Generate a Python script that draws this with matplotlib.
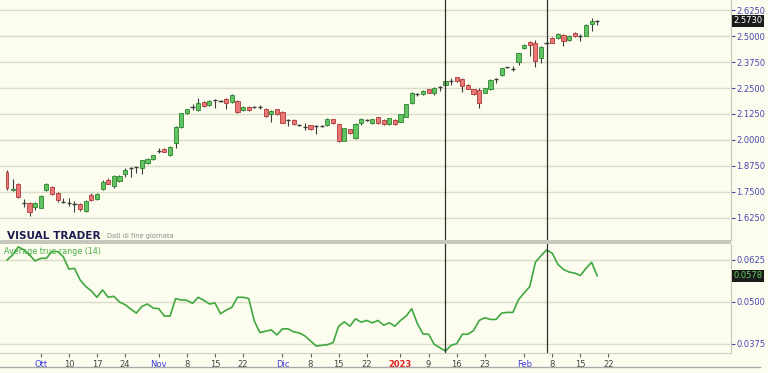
"""Daily candlestick chart with ATR(14) panel, Visual Trader style."""

import matplotlib

matplotlib.use("Agg")
import matplotlib.pyplot as plt
from matplotlib.lines import Line2D
from matplotlib.patches import Rectangle
from matplotlib.transforms import blended_transform_factory
import pandas as pd


FIRST_DAY = "2022-09-23"
LAST_DAY = "2023-02-28"
HOLIDAYS = ["2022-12-26"]

opens = [
    1.845, 1.760, 1.788, 1.700, 1.699, 1.676, 1.675, 1.760, 1.776, 1.747,
    1.705, 1.700, 1.693, 1.692, 1.659, 1.736, 1.716, 1.763, 1.808, 1.779,
    1.804, 1.835, 1.866, 1.868, 1.864, 1.888, 1.907, 1.946, 1.957, 1.926,
    1.984, 2.061, 2.128, 2.158, 2.144, 2.181, 2.168, 2.191, 2.190, 2.199,
    2.184, 2.189, 2.144, 2.160, 2.161, 2.160, 2.149, 2.123, 2.147, 2.136,
    2.097, 2.096, 2.073, 2.065, 2.070, 2.068, 2.068, 2.070, 2.099, 2.075,
    1.997, 2.051, 2.008, 2.083, 2.097, 2.080, 2.109, 2.096, 2.077, 2.096,
    2.088, 2.112, 2.176, 2.220, 2.221, 2.243, 2.227, 2.254, 2.264, 2.284,
    2.301, 2.292, 2.266, 2.243, 2.240, 2.227, 2.243, 2.292, 2.311, 2.350,
    2.343, 2.377, 2.441, 2.473, 2.465, 2.393, 2.467, 2.489, 2.489, 2.505,
    2.481, 2.516, 2.502, 2.501, 2.558, 2.574,
]
highs = [
    1.855, 1.811, 1.792, 1.715, 1.704, 1.704, 1.736, 1.792, 1.779, 1.752,
    1.720, 1.720, 1.708, 1.699, 1.711, 1.747, 1.744, 1.808, 1.816, 1.830,
    1.832, 1.864, 1.872, 1.872, 1.906, 1.912, 1.930, 1.963, 1.960, 1.970,
    2.066, 2.132, 2.150, 2.172, 2.200, 2.186, 2.192, 2.196, 2.194, 2.203,
    2.220, 2.193, 2.163, 2.163, 2.165, 2.166, 2.152, 2.142, 2.150, 2.139,
    2.099, 2.100, 2.076, 2.080, 2.074, 2.072, 2.072, 2.104, 2.103, 2.078,
    2.059, 2.055, 2.080, 2.106, 2.101, 2.102, 2.112, 2.099, 2.107, 2.099,
    2.126, 2.174, 2.232, 2.227, 2.240, 2.247, 2.255, 2.259, 2.287, 2.296,
    2.305, 2.296, 2.270, 2.247, 2.252, 2.251, 2.291, 2.296, 2.347, 2.353,
    2.355, 2.420, 2.460, 2.477, 2.481, 2.452, 2.472, 2.493, 2.513, 2.509,
    2.503, 2.520, 2.512, 2.556, 2.585, 2.576,
]
lows = [
    1.760, 1.755, 1.722, 1.680, 1.635, 1.663, 1.671, 1.755, 1.736, 1.704,
    1.696, 1.684, 1.655, 1.660, 1.655, 1.708, 1.712, 1.760, 1.787, 1.771,
    1.800, 1.824, 1.820, 1.840, 1.837, 1.884, 1.903, 1.939, 1.940, 1.922,
    1.963, 2.058, 2.124, 2.144, 2.140, 2.158, 2.163, 2.155, 2.183, 2.147,
    2.180, 2.132, 2.140, 2.140, 2.155, 2.148, 2.112, 2.088, 2.120, 2.080,
    2.067, 2.074, 2.068, 2.048, 2.048, 2.027, 2.062, 2.066, 2.077, 1.992,
    1.994, 2.029, 2.004, 2.070, 2.092, 2.077, 2.077, 2.072, 2.074, 2.074,
    2.085, 2.109, 2.172, 2.212, 2.218, 2.224, 2.218, 2.235, 2.260, 2.264,
    2.281, 2.232, 2.244, 2.218, 2.152, 2.224, 2.240, 2.275, 2.308, 2.345,
    2.330, 2.361, 2.436, 2.404, 2.353, 2.369, 2.464, 2.465, 2.485, 2.452,
    2.477, 2.497, 2.475, 2.498, 2.525, 2.555,
]
closes = [
    1.770, 1.765, 1.724, 1.697, 1.655, 1.699, 1.732, 1.787, 1.740, 1.712,
    1.703, 1.698, 1.690, 1.668, 1.708, 1.712, 1.740, 1.800, 1.790, 1.827,
    1.829, 1.856, 1.868, 1.869, 1.904, 1.907, 1.926, 1.948, 1.944, 1.968,
    2.064, 2.128, 2.147, 2.160, 2.176, 2.163, 2.187, 2.193, 2.189, 2.176,
    2.215, 2.136, 2.160, 2.144, 2.160, 2.159, 2.115, 2.139, 2.123, 2.083,
    2.096, 2.077, 2.072, 2.064, 2.051, 2.067, 2.067, 2.101, 2.080, 1.995,
    2.056, 2.032, 2.077, 2.101, 2.096, 2.099, 2.080, 2.075, 2.104, 2.077,
    2.123, 2.171, 2.228, 2.219, 2.237, 2.227, 2.252, 2.256, 2.284, 2.285,
    2.284, 2.260, 2.247, 2.221, 2.176, 2.248, 2.288, 2.293, 2.344, 2.349,
    2.344, 2.417, 2.457, 2.457, 2.381, 2.449, 2.468, 2.468, 2.510, 2.477,
    2.500, 2.500, 2.501, 2.553, 2.574, 2.573,
]
atr = [
    0.0625, 0.0640, 0.0664, 0.0655, 0.0640, 0.0622, 0.0630, 0.0630, 0.0650, 0.0650,
    0.0635, 0.0598, 0.0600, 0.0566, 0.0546, 0.0533, 0.0514, 0.0536, 0.0514, 0.0517,
    0.0500, 0.0492, 0.0479, 0.0467, 0.0487, 0.0494, 0.0482, 0.0480, 0.0458, 0.0458,
    0.0510, 0.0506, 0.0505, 0.0496, 0.0514, 0.0505, 0.0494, 0.0497, 0.0465, 0.0476,
    0.0484, 0.0514, 0.0514, 0.0510, 0.0443, 0.0409, 0.0413, 0.0417, 0.0402, 0.0420,
    0.0420, 0.0411, 0.0408, 0.0399, 0.0384, 0.0369, 0.0371, 0.0373, 0.0379, 0.0428,
    0.0441, 0.0428, 0.0450, 0.0440, 0.0445, 0.0438, 0.0445, 0.0431, 0.0438, 0.0428,
    0.0445, 0.0458, 0.0480, 0.0436, 0.0405, 0.0404, 0.0374, 0.0364, 0.0354, 0.0371,
    0.0376, 0.0404, 0.0404, 0.0415, 0.0445, 0.0453, 0.0448, 0.0448, 0.0467, 0.0469,
    0.0469, 0.0507, 0.0527, 0.0546, 0.0618, 0.0638, 0.0655, 0.0645, 0.0612, 0.0597,
    0.0589, 0.0586, 0.0579, 0.0600, 0.0618, 0.0578,
]

tick_dates = [
    "2022-10-03", "2022-10-10", "2022-10-17", "2022-10-24",
    "2022-11-01", "2022-11-08", "2022-11-15", "2022-11-22",
    "2022-12-01", "2022-12-08", "2022-12-15", "2022-12-22",
    "2023-01-02", "2023-01-09", "2023-01-16", "2023-01-23",
    "2023-02-01", "2023-02-08", "2023-02-15", "2023-02-22",
]
tick_labels = [
    "Ott", "10", "17", "24", "Nov", "8", "15", "22", "Dic", "8", "15", "22",
    "2023", "9", "16", "23", "Feb", "8", "15", "22",
]
marker_dates = ["2023-01-12", "2023-02-07"]

price_ticks = [1.625, 1.75, 1.875, 2.0, 2.125, 2.25, 2.375, 2.5, 2.625]
atr_ticks = [0.0375, 0.05, 0.0625]

BG = "#fdfdef"
GRID = "#dcdccb"
AXIS_BLUE = "#4646b4"
UP_FILL, UP_EDGE = "#62c462", "#2c862c"
DOWN_FILL, DOWN_EDGE = "#e87775", "#b03838"
WICK = "#3c3c3c"

W, H = 768, 373


def fig_rect(left, top, right, bottom):
    """Convert a pixel box to a figure fraction rect."""
    return [left / W, 1 - bottom / H, (right - left) / W, (bottom - top) / H]


def main() -> None:
    days = pd.bdate_range(FIRST_DAY, LAST_DAY)
    days = days[~days.isin(pd.to_datetime(HOLIDAYS))]
    index_of = {day: i for i, day in enumerate(days)}
    xs = list(range(len(closes)))

    fig = plt.figure(figsize=(W / 100, H / 100), dpi=100, facecolor=BG)
    ax_price = fig.add_axes(fig_rect(0, 0, 731, 240), facecolor=BG)
    ax_atr = fig.add_axes(fig_rect(0, 244, 731, 353), facecolor=BG)

    for ax in (ax_price, ax_atr):
        ax.set_xlim(-1.25, 128.8)
        for side in ("top", "left", "bottom"):
            ax.spines[side].set_visible(False)
        ax.spines["right"].set_color("#c4c4b4")
        ax.yaxis.tick_right()
        ax.tick_params(axis="y", direction="out", length=3, width=0.8,
                       color=AXIS_BLUE, labelcolor=AXIS_BLUE, labelsize=6, pad=1)
        ax.grid(axis="y", color=GRID, linewidth=1)
        ax.set_axisbelow(True)
        for day in marker_dates:
            ax.axvline(index_of[pd.Timestamp(day)], color="#303030", linewidth=0.9, zorder=4)

    # candles (first bar is cut by the left edge in the source, so draw it thin)
    ax_price.vlines(xs, lows, highs, color=WICK, linewidth=0.8, zorder=2)
    for x, o, c in zip(xs, opens, closes):
        if abs(c - o) < 0.004:
            ax_price.hlines((o + c) / 2, x - 0.38, x + 0.38, color=WICK, linewidth=1.0, zorder=3)
            continue
        up = c > o
        ax_price.bar(x, abs(c - o), bottom=min(o, c), width=0.2 if x == 0 else 0.74,
                     color=UP_FILL if up else DOWN_FILL,
                     edgecolor=UP_EDGE if up else DOWN_EDGE, linewidth=0.6, zorder=3)
    ax_price.set_ylim(1.5192, 2.6731)
    ax_price.set_yticks(price_ticks)
    ax_price.set_yticklabels([f"{v:.4f}" for v in price_ticks])
    ax_price.set_xticks([])

    # ATR panel
    ax_atr.plot(xs, atr, color="#3fa83f", linewidth=1.2, zorder=3)
    ax_atr.set_ylim(0.03482, 0.06726)
    ax_atr.set_yticks(atr_ticks)
    ax_atr.set_yticklabels([f"{v:.4f}" for v in atr_ticks])
    ax_atr.spines["bottom"].set_visible(True)
    ax_atr.spines["bottom"].set_color("#d0d0c0")
    ax_atr.set_xticks([index_of[pd.Timestamp(d)] for d in tick_dates])
    ax_atr.set_xticklabels(tick_labels)
    ax_atr.tick_params(axis="x", direction="out", length=3, width=0.8,
                       color="#606060", labelsize=6, pad=2)
    for label in ax_atr.get_xticklabels():
        text = label.get_text()
        if text == "2023":
            label.set_color("#e02020")
            label.set_fontweight("bold")
        elif text.isdigit():
            label.set_color("#404040")
        else:
            label.set_color("#3a3ae0")

    # current value boxes
    price_tr = blended_transform_factory(ax_price.transAxes, ax_price.transData)
    ax_price.text(1.003, closes[-1], f"{closes[-1]:.4f}", transform=price_tr,
                  color="white", fontsize=6, va="center", ha="left",
                  bbox=dict(boxstyle="square,pad=0.2", facecolor="#1a1a1a", edgecolor="none"))
    atr_tr = blended_transform_factory(ax_atr.transAxes, ax_atr.transData)
    ax_atr.text(1.003, atr[-1], f"{atr[-1]:.4f}", transform=atr_tr,
                color="#5fd05f", fontsize=6, va="center", ha="left",
                bbox=dict(boxstyle="square,pad=0.2", facecolor="#1a1a1a", edgecolor="none"))

    # separator, titles
    fig.add_artist(Rectangle((0, 1 - 244 / H), 731 / W, 4 / H, transform=fig.transFigure,
                             facecolor="#c6c6bc", edgecolor="none"))
    fig.add_artist(Line2D([0, 760 / W], [1 - 367 / H] * 2, transform=fig.transFigure,
                          color="#a8a8a8", linewidth=1))
    fig.text(7 / W, 1 - 236 / H, "VISUAL TRADER", fontsize=7.6, fontweight="bold",
             color="#1c1c50", va="center", ha="left")
    fig.text(107 / W, 1 - 236 / H, "Dati di fine giornata", fontsize=4.8,
             color="#8a8a8a", va="center", ha="left")
    fig.text(4 / W, 1 - 251 / H, "Average true range (14)", fontsize=5.8,
             color="#45b045", va="center", ha="left")

    fig.savefig("out.png", dpi=100, facecolor=BG)
    plt.close(fig)


if __name__ == "__main__":
    main()
